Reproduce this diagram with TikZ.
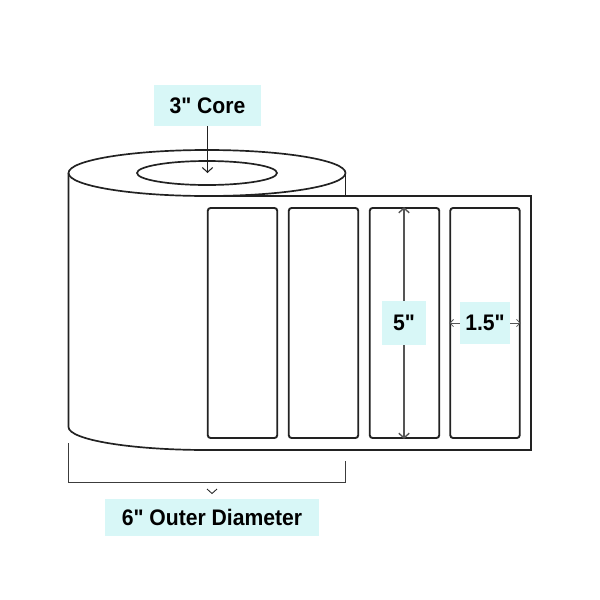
\documentclass[tikz,border=0pt]{standalone}
\usepackage{fontspec}
\newfontfamily\dimfont[FakeStretch=0.94]{Liberation Sans}
\usetikzlibrary{arrows.meta}
\usetikzlibrary{shapes.geometric}
\definecolor{dimfill}{HTML}{D8F7F7}
\definecolor{rollink}{HTML}{222222}
\definecolor{dimink}{HTML}{555555}
\tikzset{
    rollline/.style={draw=rollink, line width=1.2pt},
    labelbox/.style={rollline, line width=1.35pt, rounded corners=2pt, minimum width=69.5*0.25mm, minimum height=230*0.25mm, inner sep=0pt},
    dimbox/.style={fill=dimfill, inner sep=0pt, font=\dimfont\bfseries\fontsize{16}{16}\selectfont, text=black},
    dimline/.style={draw=dimink, line width=1pt},
}

\begin{document}
\begin{tikzpicture}[x=0.25mm, y=-0.25mm, >={Straight Barb[length=1.2mm, width=2.6mm]}]
    \useasboundingbox (0, 0) rectangle (600, 600);
    % roll
    \draw [rollline] (207, 173) ellipse [x radius=138.5, y radius=23];
    \draw [rollline] (207, 173) ellipse [x radius=70, y radius=12];
    \draw [rollline] (345.5, 173) -- (345.5, 196);
    % sheet
    \draw [rollline] (68.5, 173) -- (68.5, 427) arc [start angle=180, end angle=90, x radius=138.5, y radius=23] -- (531, 450) -- (531, 196) -- (207, 196);
    % labels
    \node [labelbox] (label1) at (242.5, 323) {};
    \node [labelbox] (label2) at (323.5, 323) {};
    \node [labelbox] (label3) at (404.5, 323) {};
    \node [labelbox] (label4) at (485, 323) {};
    % core
    \node [dimbox, minimum width=107*0.25mm, minimum height=41*0.25mm] (core) at (207.5, 105.5) {3" Core};
    \coordinate (coreend) at (207.5, 173);
    \draw [->, draw=rollink, line width=0.75pt] (core) -- (coreend);
    % length
    \node [dimbox, minimum width=44*0.25mm, minimum height=44*0.25mm] (length) at (404, 323) {5"};
    \draw [->, dimline] (length) -- (label3.north -| length);
    \draw [->, dimline] (length) -- (label3.south -| length);
    % width
    \node [dimbox, minimum width=50*0.25mm, minimum height=42*0.25mm] (width) at (485, 323) {1.5"};
    \draw [->, >={Straight Barb[length=0.9mm, width=1.8mm]}, dimline, line width=0.6pt] (width) -- (label4.west |- width);
    \draw [->, >={Straight Barb[length=0.9mm, width=1.8mm]}, dimline, line width=0.6pt] (width) -- (label4.east |- width);
    % outer diameter
    \node [dimbox, minimum width=214*0.25mm, minimum height=37*0.25mm] (outer) at (212, 517.5) {6" Outer Diameter};
    \coordinate (bracketl) at (68.5, 443);
    \coordinate (bracketr) at (345.5, 461);
    \draw [draw=dimink!70!black, line width=0.8pt] (bracketl) -- (68.5, 482.2) -- (345.5, 482.2) -- (bracketr);
    \draw [draw=rollink, line width=0.6pt] (207, 489) -- (212, 493.5) -- (217, 489);
\end{tikzpicture}
\end{document}
